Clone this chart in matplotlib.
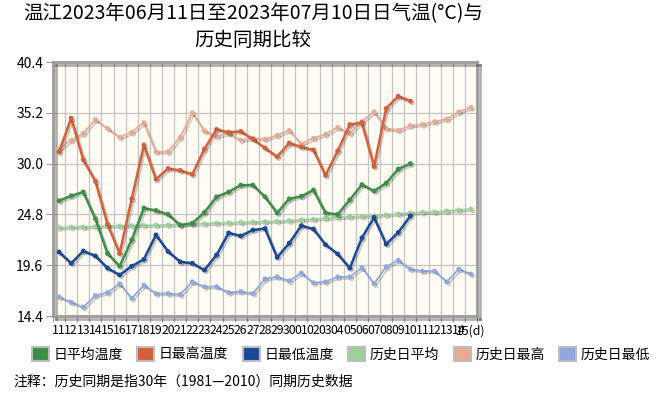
import matplotlib
matplotlib.use("Agg")
import matplotlib.pyplot as plt
import matplotlib.patheffects as pe
from matplotlib.patches import Patch
import numpy as np

plt.rcParams['font.family'] = ['Noto Sans CJK SC', 'DejaVu Sans']

x_labels = ['11', '12', '13', '14', '15', '16', '17', '18', '19', '20',
            '21', '22', '23', '24', '25', '26', '27', '28', '29', '30',
            '01', '02', '03', '04', '05', '06', '07', '08', '09', '10',
            '11', '12', '13', '14', '15(d)']
y_ticks = [14.4, 19.6, 24.8, 30.0, 35.2, 40.4]

avg_temp = [26.2, 26.7, 27.1, 24.35, 20.8, 19.5, 22.2, 25.45, 25.2, 24.8,
            23.7, 23.9, 25.0, 26.6, 27.1, 27.8, 27.8, 26.6, 24.95, 26.4,
            26.65, 27.3, 24.95, 24.8, 26.3, 27.85, 27.2, 28.0, 29.45, 30.0]
max_temp = [31.2, 34.65, 30.4, 28.2, 23.8, 20.8, 26.4, 31.9, 28.4, 29.5,
            29.3, 28.9, 31.5, 33.5, 33.2, 33.3, 32.5, 31.6, 30.7, 32.1,
            31.7, 31.4, 28.8, 31.3, 34.0, 34.2, 29.7, 35.65, 36.9, 36.4]
min_temp = [20.95, 19.8, 21.05, 20.55, 19.3, 18.6, 19.5, 20.2, 22.7, 21.0,
            19.95, 19.8, 19.1, 20.65, 22.9, 22.6, 23.2, 23.35, 20.4, 21.85,
            23.65, 23.3, 21.7, 20.75, 19.3, 22.4, 24.5, 21.75, 22.95, 24.65]

hist_avg = [23.45, 23.5, 23.5, 23.55, 23.6, 23.62, 23.65, 23.68, 23.7, 23.72,
            23.76, 23.8, 23.85, 23.9, 23.95, 23.98, 24.02, 24.05, 24.1, 24.15,
            24.25, 24.3, 24.4, 24.5, 24.55, 24.6, 24.65, 24.75, 24.85, 24.95,
            25.0, 25.05, 25.15, 25.25, 25.35]
hist_max = [31.5, 32.4, 33.1, 34.5, 33.6, 32.7, 33.2, 34.2, 31.2, 31.2,
            32.7, 35.2, 33.35, 32.8, 33.1, 32.4, 32.6, 32.5, 32.9, 33.4,
            32.0, 32.6, 33.0, 33.7, 33.1, 34.3, 35.3, 33.6, 33.4, 33.9,
            34.0, 34.3, 34.55, 35.3, 35.75]
hist_min = [16.35, 15.8, 15.3, 16.5, 16.8, 17.7, 16.2, 17.55, 16.7, 16.7,
            16.6, 17.9, 17.4, 17.4, 16.8, 16.9, 16.7, 18.2, 18.4, 18.0,
            18.8, 17.8, 17.9, 18.4, 18.4, 19.35, 17.7, 19.45, 20.1, 19.2,
            19.0, 19.0, 17.9, 19.2, 18.7]

c_avg, c_max, c_min = '#3d8f48', '#d4603a', '#1c4996'
c_havg, c_hmax, c_hmin = '#9bd09b', '#e9a993', '#90a8e0'

fig = plt.figure(figsize=(6.57, 3.98), dpi=100)
ax = fig.add_axes([53 / 657, 1 - 316 / 398, 424 / 657, 254 / 398])
ax.set_facecolor('#fffcf3')

shadow = [pe.SimpleLineShadow(offset=(1.3, -1.3), alpha=0.2), pe.Normal()]
x_all = np.arange(len(x_labels))
x_obs = np.arange(len(avg_temp))

for vals, col in [(hist_max, c_hmax), (hist_min, c_hmin), (hist_avg, c_havg)]:
    ax.plot(x_all, vals, color=col, lw=1.3, marker='o', ms=2.5,
            path_effects=shadow, zorder=3)
for vals, col in [(max_temp, c_max), (avg_temp, c_avg), (min_temp, c_min)]:
    ax.plot(x_obs, vals, color=col, lw=1.8, marker='o', ms=2.5,
            path_effects=shadow, zorder=4)

ax.set_xlim(-0.5, len(x_labels) - 0.5)
ax.set_ylim(14.4, 40.4)
ax.set_yticks(y_ticks)
ax.set_yticklabels([f'{v:.1f}' for v in y_ticks], fontsize=10)
ax.set_xticks(np.arange(-0.5, len(x_labels), 1.0))
ax.set_xticklabels([])
ax.set_xticks(x_all, minor=True)
ax.set_xticklabels(x_labels, minor=True, fontsize=8.8)
ax.tick_params(axis='x', which='major', length=4, color='#a0a0a0')
ax.tick_params(axis='x', which='minor', length=0, pad=6)
ax.tick_params(axis='y', length=5, color='#a0a0a0', pad=2)
ax.grid(True, which='major', color='#c4c4c4', lw=0.9)
ax.set_axisbelow(True)
for sp in ax.spines.values():
    sp.set_color('#9a9a9a')
    sp.set_linewidth(2)
    sp.set_path_effects([pe.SimpleLineShadow(offset=(2, -2), alpha=0.3), pe.Normal()])

fig.text(253 / 657, 1 - 14 / 398, '温江2023年06月11日至2023年07月10日日气温(°C)与',
         ha='center', va='center', fontsize=14)
fig.text(253 / 657, 1 - 40 / 398, '历史同期比较', ha='center', va='center', fontsize=14)

names = ['日平均温度', '日最高温度', '日最低温度', '历史日平均', '历史日最高', '历史日最低']
cols = [c_avg, c_max, c_min, c_havg, c_hmax, c_hmin]
handles = [Patch(facecolor=c, edgecolor='#bdbdbd', lw=1.5) for c in cols]
fig.legend(handles, names, loc='center left', bbox_to_anchor=(32 / 657, 1 - 354 / 398),
           ncol=6, frameon=False, fontsize=10, handlelength=1.2, handleheight=1.2,
           handletextpad=0.35, columnspacing=1.05, borderaxespad=0, borderpad=0)

fig.text(13 / 657, 1 - 382 / 398, '注释：历史同期是指30年（1981—2010）同期历史数据',
         ha='left', va='center', fontsize=10)

fig.savefig('out.png', dpi=100)
